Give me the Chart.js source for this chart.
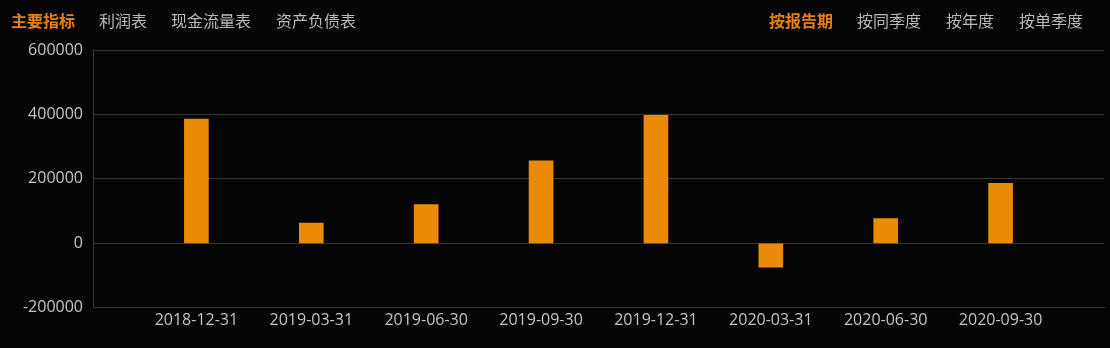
<!DOCTYPE html>
<html lang="zh-CN">

<head>
  <meta charset="utf-8">
  <title>主要指标</title>
  <script src="https://cdn.jsdelivr.net/npm/chart.js"></script>
  <style>
    html, body { margin: 0; padding: 0; background: #060505; }
    #wrap { position: relative; width: 1110px; height: 348px; overflow: hidden; }
    #tabs { position: absolute; left: 0; top: 0; width: 1110px; height: 40px;
      font-family: "Noto Sans CJK SC", sans-serif; font-size: 16px; color: #b9b9b9; z-index: 2; }
    #tabs span { position: absolute; top: 9px; line-height: 22px; white-space: nowrap; }
    #tabs .on { color: #e5820f; font-weight: bold; }
    canvas { position: absolute; left: 0; top: 0; }
  </style>
</head>

<body>
  <div id="wrap">
    <div id="tabs">
      <span class="on" style="left: 11px;">主要指标</span>
      <span style="left: 99px;">利润表</span>
      <span style="left: 171px;">现金流量表</span>
      <span style="left: 276px;">资产负债表</span>
      <span class="on" style="left: 769px;">按报告期</span>
      <span style="left: 857px;">按同季度</span>
      <span style="left: 946px;">按年度</span>
      <span style="left: 1019px;">按单季度</span>
    </div>
    <canvas id="myChart" width="1110" height="348"></canvas>
  </div>

  <script>
    // report periods and the indicator value for each
    const periods = ['2018-12-31', '2019-03-31', '2019-06-30', '2019-09-30',
      '2019-12-31', '2020-03-31', '2020-06-30', '2020-09-30'];
    const values = [386000, 63000, 120000, 256000, 397000, -74000, 77000, 186000];
    const yTicks = [-200000, 0, 200000, 400000, 600000];

    const gridColor = '#3a3330';
    const tickColor = '#c4c4c4';

    const points = periods.map((p, i) => ({ x: i, y: values[i] }));

    new Chart(document.getElementById('myChart'), {
      type: 'bar',
      data: {
        datasets: [{
          data: points,
          backgroundColor: '#eb8a04',
          borderWidth: 0,
          barThickness: 24
        }]
      },
      options: {
        responsive: false,
        animation: false,
        layout: { padding: { top: 50, right: 6, bottom: 15, left: 0 } },
        plugins: { legend: { display: false }, tooltip: { enabled: false } },
        scales: {
          x: {
            type: 'linear',
            offset: false,
            min: -0.9,
            max: 7.9,
            afterBuildTicks: (scale) => {
              scale.ticks = periods.map((p, i) => ({ value: i }));
            },
            grid: { display: false, drawTicks: false },
            border: { display: true, color: gridColor },
            ticks: {
              autoSkip: false,
              maxRotation: 0,
              padding: 3,
              color: tickColor,
              font: { family: 'Open Sans', size: 16 },
              callback: (v) => periods[v]
            }
          },
          y: {
            min: -200000,
            max: 600000,
            afterBuildTicks: (scale) => {
              scale.ticks = yTicks.map(v => ({ value: v }));
            },
            afterFit: (scale) => { scale.width = 93; },
            grid: { color: gridColor, drawTicks: false },
            border: { display: true, color: gridColor },
            ticks: {
              padding: 10,
              color: tickColor,
              font: { family: 'Open Sans', size: 16 },
              callback: (v) => String(v)
            }
          }
        }
      }
    });
  </script>
</body>

</html>
